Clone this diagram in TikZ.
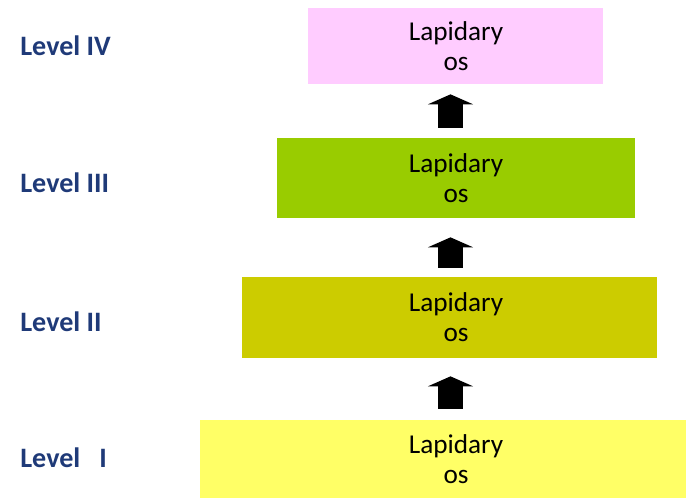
\documentclass[tikz,border=0pt]{standalone}
\usepackage{fontspec}
\setmainfont{Carlito}
\usetikzlibrary{arrows.meta}
\definecolor{levelblue}{HTML}{1F3A78}
\definecolor{osfourpink}{HTML}{FFCCFF}
\definecolor{osthreegreen}{HTML}{99CC00}
\definecolor{ostwoolive}{HTML}{CCCC00}
\definecolor{osoneyellow}{HTML}{FFFF66}

\begin{document}
\begin{tikzpicture}[x=0.02cm,y=-0.02cm,
  osbox/.style={inner sep=0pt},
  ostext/.style={inner sep=0pt, align=center, font=\fontsize{15.5}{17}\selectfont},
  levellabel/.style={anchor=west, inner sep=0pt, text=levelblue, font=\fontsize{16}{18}\selectfont\bfseries},
  uparrow/.style={line width=0.5cm, -{Triangle[width=0.9cm,length=0.2cm]}}]
\useasboundingbox (0,0) rectangle (686,498);

\node (os4) at (455.5,46) [osbox, fill=osfourpink, minimum width=5.9cm, minimum height=1.52cm] {};
\node (os3) at (456,178) [osbox, fill=osthreegreen, minimum width=7.16cm, minimum height=1.6cm] {};
\node (os2) at (449.5,317.5) [osbox, fill=ostwoolive, minimum width=8.3cm, minimum height=1.62cm] {};
\node (os1) at (443,459) [osbox, fill=osoneyellow, minimum width=9.72cm, minimum height=1.56cm] {};

\coordinate (axis) at (456,0);
\node (os4txt) at (os4 -| axis) [ostext] {Lapidary\\os};
\node (os3txt) at (os3 -| axis) [ostext] {Lapidary\\os};
\node (os2txt) at (os2 -| axis) [ostext] {Lapidary\\os};
\node (os1txt) at (os1 -| axis) [ostext] {Lapidary\\os};

\node (lvl4) at (20,46) [levellabel] {Level IV};
\node (lvl3) at (20,183) [levellabel] {Level III};
\node (lvl2) at (20,322) [levellabel] {Level II};
\node (lvl1) at (20,458) [levellabel] {Level\ \ \ I};

\coordinate (arrowaxis) at (450.5,0);
\draw[uparrow, shorten <=0.22cm, shorten >=0.36cm] (os1.north -| arrowaxis) -- (os2.south -| arrowaxis);
\draw[uparrow, shorten <=0.18cm, shorten >=0.38cm] (os2.north -| arrowaxis) -- (os3.south -| arrowaxis);
\draw[uparrow, shorten <=0.2cm, shorten >=0.2cm] (os3.north -| arrowaxis) -- (os4.south -| arrowaxis);
\end{tikzpicture}
\end{document}
